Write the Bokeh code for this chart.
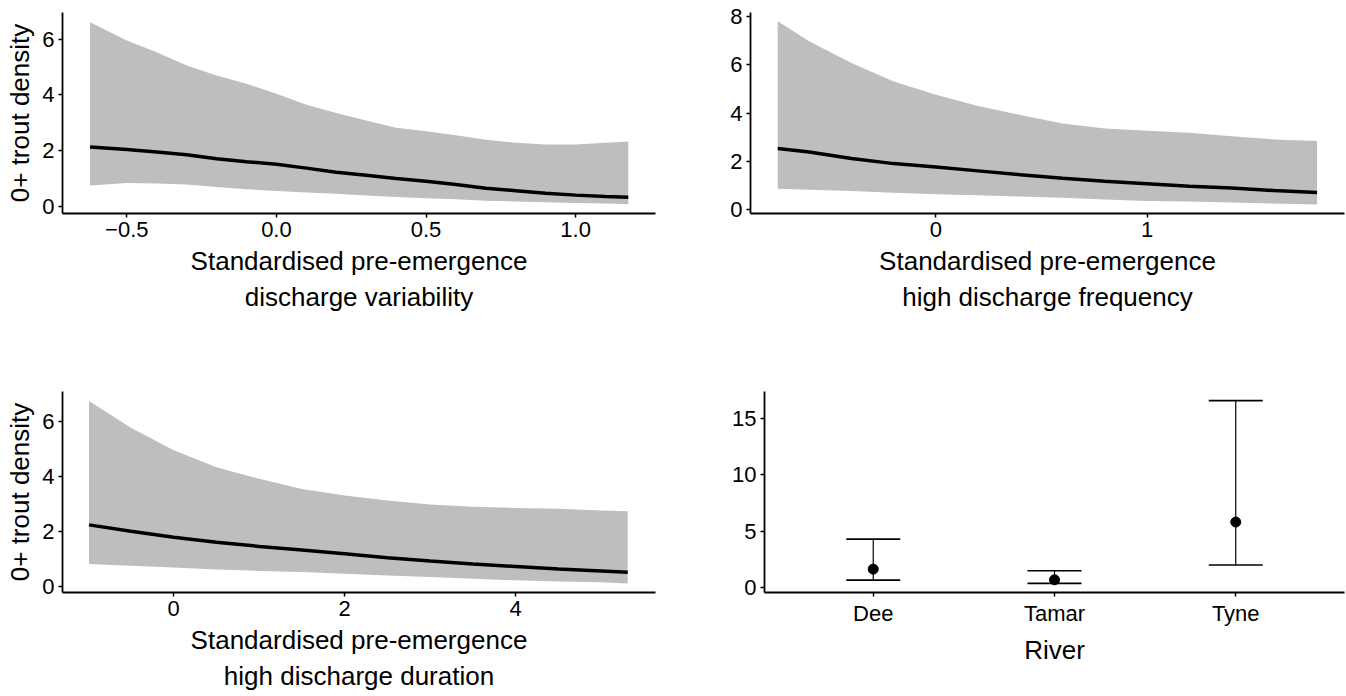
from bokeh.plotting import figure
from bokeh.layouts import column, row
from bokeh.models import Range1d, FactorRange, FixedTicker, Whisker, TeeHead, ColumnDataSource
from bokeh.embed import file_html
from bokeh.resources import INLINE

# ---- Panel 1: discharge variability ----
var_x = [-0.623, -0.5, -0.4, -0.3, -0.2, -0.1, 0.0, 0.1, 0.2, 0.3, 0.4, 0.5, 0.6, 0.7, 0.8, 0.9, 1.0, 1.1, 1.176]
var_upper = [6.61, 5.95, 5.53, 5.06, 4.70, 4.40, 4.04, 3.65, 3.35, 3.08, 2.82, 2.69, 2.55, 2.39, 2.28, 2.22, 2.22, 2.28, 2.33]
var_lower = [0.75, 0.84, 0.82, 0.78, 0.69, 0.61, 0.55, 0.49, 0.45, 0.39, 0.33, 0.29, 0.25, 0.20, 0.17, 0.14, 0.12, 0.10, 0.07]
var_mean = [2.13, 2.04, 1.95, 1.85, 1.71, 1.60, 1.51, 1.37, 1.22, 1.11, 1.00, 0.90, 0.78, 0.65, 0.56, 0.47, 0.40, 0.35, 0.32]

# ---- Panel 2: high discharge frequency ----
freq_x = [-0.749, -0.6, -0.4, -0.2, 0.0, 0.2, 0.4, 0.6, 0.8, 1.0, 1.2, 1.4, 1.6, 1.805]
freq_upper = [7.79, 6.96, 6.06, 5.30, 4.75, 4.29, 3.92, 3.57, 3.36, 3.27, 3.18, 3.04, 2.91, 2.84]
freq_lower = [0.87, 0.83, 0.78, 0.71, 0.64, 0.60, 0.55, 0.50, 0.43, 0.37, 0.35, 0.30, 0.26, 0.22]
freq_mean = [2.53, 2.39, 2.12, 1.91, 1.77, 1.61, 1.45, 1.31, 1.18, 1.08, 0.98, 0.90, 0.80, 0.72]

# ---- Panel 3: high discharge duration ----
dur_x = [-0.99, -0.5, 0.0, 0.5, 1.0, 1.5, 2.0, 2.5, 3.0, 3.5, 4.0, 4.5, 5.0, 5.31]
dur_upper = [6.73, 5.76, 4.94, 4.33, 3.91, 3.54, 3.30, 3.12, 2.98, 2.90, 2.85, 2.82, 2.76, 2.73]
dur_lower = [0.82, 0.76, 0.70, 0.62, 0.57, 0.53, 0.47, 0.41, 0.35, 0.29, 0.23, 0.19, 0.16, 0.12]
dur_mean = [2.24, 2.01, 1.79, 1.61, 1.46, 1.33, 1.19, 1.05, 0.93, 0.82, 0.73, 0.64, 0.57, 0.52]

# ---- Panel 4: river ----
rivers = ["Dee", "Tamar", "Tyne"]
river_est = [1.61, 0.66, 5.80]
river_lower = [0.63, 0.34, 1.98]
river_upper = [4.28, 1.47, 16.61]

FONT = "Liberation Sans"
RIBBON = "#BEBEBE"
TICK_SIZE = "22px"
TITLE_SIZE = "26px"


def style(p, xlabel, ylabel=None):
    p.outline_line_color = None
    p.xgrid.visible = False
    p.ygrid.visible = False
    p.background_fill_color = "white"
    p.border_fill_color = "white"
    for ax in (p.xaxis[0], p.yaxis[0]):
        ax.axis_line_color = "black"
        ax.axis_line_width = 1.8
        ax.major_tick_line_color = "black"
        ax.major_tick_line_width = 1.5
        ax.major_tick_out = 4
        ax.major_tick_in = 0
        ax.minor_tick_line_color = None
        ax.major_label_text_font = FONT
        ax.major_label_text_font_size = TICK_SIZE
        ax.major_label_text_color = "black"
        ax.major_label_standoff = 4
        ax.axis_label_text_font = FONT
        ax.axis_label_text_font_size = TITLE_SIZE
        ax.axis_label_text_font_style = "normal"
        ax.axis_label_text_color = "black"
    p.xaxis[0].axis_label = xlabel
    p.xaxis[0].axis_label_standoff = 6
    if ylabel:
        p.yaxis[0].axis_label = ylabel
        p.yaxis[0].axis_label_standoff = 4


def curve_panel(xs, lo, hi, mean, xr, yr, xticks, xover, yticks, xlabel, ylabel,
                width, height, bl, br, bt, bb):
    p = figure(width=width, height=height, x_range=Range1d(*xr), y_range=Range1d(*yr),
               output_backend="svg", toolbar_location=None,
               min_border_left=bl, min_border_right=br, min_border_top=bt, min_border_bottom=bb)
    p.varea(x=xs, y1=lo, y2=hi, fill_color=RIBBON, fill_alpha=1.0)
    p.line(x=xs, y=mean, line_color="black", line_width=3.5)
    style(p, xlabel, ylabel)
    p.xaxis[0].ticker = FixedTicker(ticks=xticks)
    if xover:
        p.xaxis[0].major_label_overrides = xover
    p.yaxis[0].ticker = FixedTicker(ticks=yticks)
    return p


p1 = curve_panel(var_x, var_lower, var_upper, var_mean, (-0.715, 1.267), (-0.26, 6.96),
                 [-0.5, 0.0, 0.5, 1.0], {-0.5: "\u22120.5", 0.0: "0.0", 0.5: "0.5", 1.0: "1.0"},
                 [0, 2, 4, 6], "Standardised pre-emergence\ndischarge variability", "0+ trout density",
                 690, 345, 62, 35, 12, 132)

p2 = curve_panel(freq_x, freq_lower, freq_upper, freq_mean, (-0.878, 1.935), (-0.15, 8.15),
                 [0, 1], None, [0, 2, 4, 6, 8],
                 "Standardised pre-emergence\nhigh discharge frequency", None,
                 656, 345, 60, 2, 12, 132)

p3 = curve_panel(dur_x, dur_lower, dur_upper, dur_mean, (-1.30, 5.635), (-0.21, 7.07),
                 [0, 2, 4], None, [0, 2, 4, 6],
                 "Standardised pre-emergence\nhigh discharge duration", "0+ trout density",
                 690, 351, 62, 35, 46, 104)

src = ColumnDataSource(dict(river=rivers, est=river_est, lo=river_lower, hi=river_upper))
p4 = figure(width=656, height=351, x_range=FactorRange(factors=rivers, range_padding=0.1,
                                                       range_padding_units="absolute"),
            y_range=Range1d(-0.47, 17.42), output_backend="svg", toolbar_location=None,
            min_border_left=74, min_border_right=2, min_border_top=46, min_border_bottom=98)
wh = Whisker(source=src, base="river", upper="hi", lower="lo", dimension="height",
             line_color="black", line_width=1.2,
             upper_head=TeeHead(size=54, line_color="black", line_width=1.6),
             lower_head=TeeHead(size=54, line_color="black", line_width=1.6))
p4.add_layout(wh)
p4.scatter(x="river", y="est", source=src, size=10, color="black")
style(p4, "River", None)
p4.yaxis[0].ticker = FixedTicker(ticks=[0, 5, 10, 15])
p4.xaxis[0].major_label_orientation = "horizontal"

layout = column(row(p1, p2), row(p3, p4))
open("out.html", "w").write(file_html(layout, INLINE))
